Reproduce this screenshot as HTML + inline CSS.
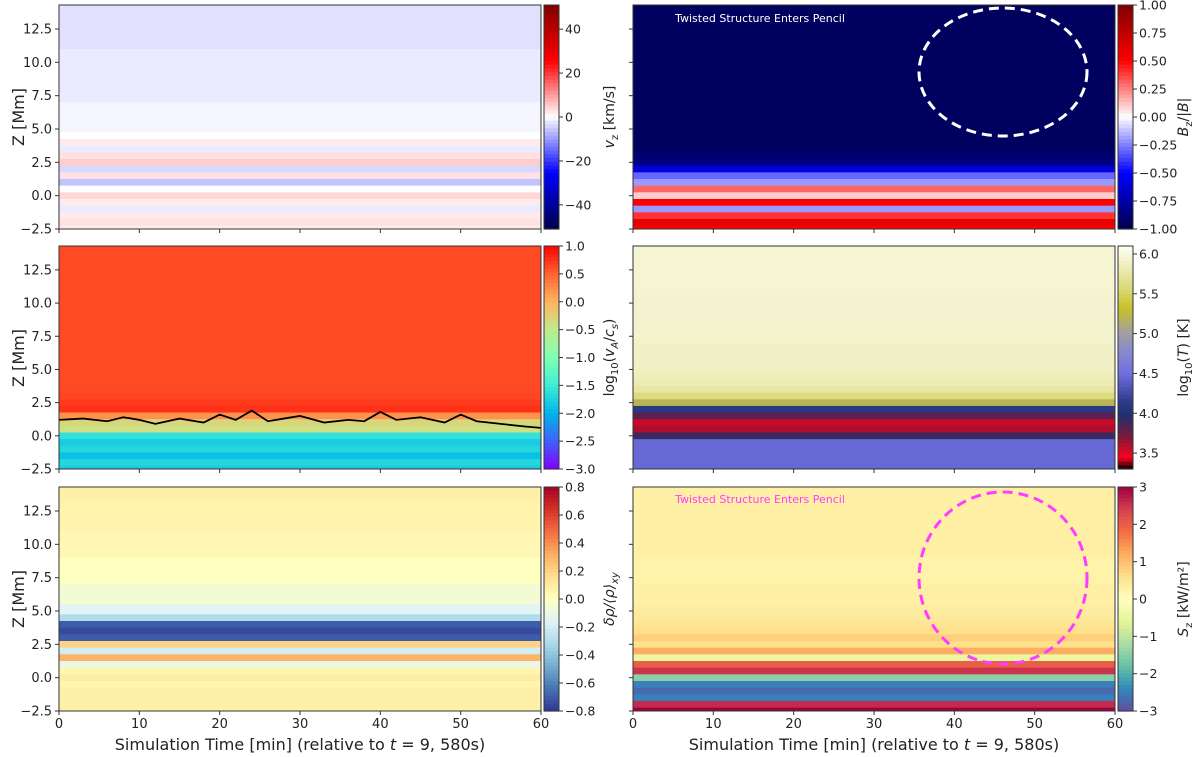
<!DOCTYPE html>
<html><head><meta charset="utf-8"><title>Simulation panels</title>
<style>
html,body{margin:0;padding:0;background:#fff;}
svg{display:block;font-family:"DejaVu Sans","Liberation Sans",sans-serif;}
</style></head>
<body>
<svg id="fig" width="1200" height="757" viewBox="0 0 1200 757" xmlns="http://www.w3.org/2000/svg"></svg>
<script>
// ---- data ----
const timeTicks = [0,10,20,30,40,50,60];
const zTicks = [-2.5,0.0,2.5,5.0,7.5,10.0,12.5];
const zLevels = [14.3,12,10,8,6,5,4.5,4,3.5,3,2.5,2,1.5,1,0.5,0,-0.5,-1,-1.5,-2,-2.5];
const vzVals   = [-3,-3,-2,-2,-1,-1,0,2,-2,3,5,-4,3,-6,0,4,2,-2,2,3,2];
const bzVals   = [-0.95,-0.95,-0.95,-0.95,-0.95,-0.95,-0.95,-0.95,-0.94,-0.9,-0.85,-0.6,-0.3,-0.2,0.3,0.1,0.5,-0.2,0.4,0.6,0.5];
const vaVals   = [0.62,0.62,0.62,0.62,0.62,0.62,0.62,0.62,0.63,0.65,0.7,0.75,0.2,-0.3,-0.4,-1.6,-1.8,-1.7,-1.9,-1.7,-1.8];
const tVals    = [5.95,5.95,5.93,5.92,5.9,5.88,5.85,5.82,5.75,5.6,5.2,4.1,3.8,3.55,3.6,3.9,4.45,4.45,4.45,4.45,4.45];
const rhoVals  = [0.08,0.06,0.04,0.0,-0.06,-0.15,-0.3,-0.7,-0.75,-0.7,0.2,-0.2,0.3,-0.1,0.05,0.1,0.05,0.08,0.08,0.08,0.08];
const szVals   = [0.3,0.3,0.3,0.25,0.3,0.35,0.4,0.5,0.6,0.8,0.6,1.2,-0.5,2.0,2.5,-1.5,-2.5,-2.7,-2.5,2.6,3];
const contourTimes = [0,3,6,8,10,12,15,18,20,22,24,26,28,30,33,36,38,40,42,45,48,50,52,55,58,60];
const contourZ     = [1.2,1.3,1.1,1.4,1.2,0.9,1.3,1.0,1.6,1.2,1.9,1.1,1.3,1.5,1.0,1.2,1.1,1.8,1.2,1.4,1.0,1.6,1.1,0.9,0.7,0.6];
const cbVz = [40,20,0,-20,-40];
const cbBz = [1.00,0.75,0.50,0.25,0.00,-0.25,-0.50,-0.75,-1.00];
const cbVa = [1.0,0.5,0.0,-0.5,-1.0,-1.5,-2.0,-2.5,-3.0];
const cbT  = [6.0,5.5,5.0,4.5,4.0,3.5];
const cbRho= [0.8,0.6,0.4,0.2,0.0,-0.2,-0.4,-0.6,-0.8];
const cbSz = [3,2,1,0,-1,-2,-3];

// ---- colormaps ----
const seismic=[[0,'#00004c'],[0.25,'#0000ff'],[0.5,'#ffffff'],[0.75,'#ff0000'],[1,'#800000']];
const rainbow=[[0,'#8000ff'],[0.125,'#4062fa'],[0.25,'#00b5eb'],[0.375,'#40ecd4'],[0.5,'#80ffb4'],[0.625,'#c0eb8d'],[0.75,'#ffb360'],[0.875,'#ff6230'],[1,'#ff0000']];
const tmap=[[0,'#000000'],[0.05,'#ff0020'],[0.14,'#801838'],[0.24,'#203070'],[0.3,'#2e3a8a'],[0.43,'#7070e0'],[0.54,'#8c8cc8'],[0.61,'#a0a0a0'],[0.72,'#c8c028'],[0.8,'#d8d870'],[1,'#fffff8']];
const rdylbu=[[0,'#313695'],[0.1,'#4575b4'],[0.2,'#74add1'],[0.3,'#abd9e9'],[0.4,'#e0f3f8'],[0.5,'#ffffbf'],[0.6,'#fee090'],[0.7,'#fdae61'],[0.8,'#f46d43'],[0.9,'#d73027'],[1,'#a50026']];
const spectral=[[0,'#5e4fa2'],[0.1,'#3288bd'],[0.2,'#66c2a5'],[0.3,'#abdda4'],[0.4,'#e6f598'],[0.5,'#ffffbf'],[0.6,'#fee08b'],[0.7,'#fdae61'],[0.8,'#f46d43'],[0.9,'#d53e4f'],[1,'#9e0142']];
function hex(h){return [1,3,5].map(i=>parseInt(h.substr(i,2),16));}
function cmap(stops,t){t=Math.max(0,Math.min(1,t));
  for(let i=1;i<stops.length;i++){if(t<=stops[i][0]){const a=stops[i-1],b=stops[i];const f=(t-a[0])/(b[0]-a[0]);const ca=hex(a[1]),cb=hex(b[1]);return 'rgb('+ca.map((v,k)=>Math.round(v+(cb[k]-v)*f)).join(',')+')';}}
  return stops[stops.length-1][1];}

const NS='http://www.w3.org/2000/svg';
const svg=document.getElementById('fig');
function el(tag,attrs,parent){const e=document.createElementNS(NS,tag);for(const k in attrs)e.setAttribute(k,attrs[k]);(parent||svg).appendChild(e);return e;}
function txt(s,attrs,parent){const e=el('text',attrs,parent);e.textContent=s;return e;}

const cols=[{x:59,w:482,cbx:544},{x:633,w:482,cbx:1118}];
const rows=[{y:5,h:224},{y:246,h:223},{y:487,h:224}];
const ZMIN=-2.5,ZMAX=14.3;

const panels=[
 {c:0,r:0,name:'vz-panel',vals:vzVals,stops:seismic,lo:-51,hi:51,ticks:cbVz,fmt:v=>v.toString().replace('-','−'),label:'v_z [km/s]'},
 {c:1,r:0,name:'bz-panel',vals:bzVals,stops:seismic,lo:-1,hi:1,ticks:cbBz,fmt:v=>v.toFixed(2).replace('-','−'),label:'B_z/|B|'},
 {c:0,r:1,name:'va-cs-panel',vals:vaVals,stops:rainbow,lo:-3,hi:1,ticks:cbVa,fmt:v=>v.toFixed(1).replace('-','−'),label:'log10(v_A/c_s)'},
 {c:1,r:1,name:'temperature-panel',vals:tVals,stops:tmap,lo:3.3,hi:6.1,ticks:cbT,fmt:v=>v.toFixed(1),label:'log10(T) [K]'},
 {c:0,r:2,name:'density-panel',vals:rhoVals,stops:rdylbu,lo:-0.8,hi:0.8,ticks:cbRho,fmt:v=>v.toFixed(1).replace('-','−'),label:'δρ/⟨ρ⟩_xy'},
 {c:1,r:2,name:'poynting-panel',vals:szVals,stops:spectral,lo:-3,hi:3,ticks:cbSz,fmt:v=>v.toString().replace('-','−'),label:'S_z [kW/m²]'}
];

panels.forEach(p=>{
  const C=cols[p.c],R=rows[p.r];
  const g=el('g',{});
  
  
  const zy=z=>R.y+R.h-(z-ZMIN)/(ZMAX-ZMIN)*R.h;
  const tx=t=>C.x+t/60*C.w;
  const norm=v=>(v-p.lo)/(p.hi-p.lo);
  for(let i=0;i<zLevels.length;i++){
    const zTop=i===0?ZMAX:(zLevels[i]+zLevels[i-1])/2;
    const zBot=i===zLevels.length-1?ZMIN:(zLevels[i]+zLevels[i+1])/2;
    const r=el('rect',{x:C.x,y:zy(zTop),width:C.w,height:zy(zBot)-zy(zTop)+0.5,fill:cmap(p.stops,norm(p.vals[i]))},g);
    
    
  }
  if(p.name==='va-cs-panel'){
    const pts=contourTimes.map((t,i)=>tx(t)+','+zy(contourZ[i])).join(' ');
    const pl=el('polyline',{points:pts,fill:'none',stroke:'#000','stroke-width':1.8},g);
    
    
  }
  const fr=el('rect',{x:C.x,y:R.y,width:C.w,height:R.h,fill:'none',stroke:'#333','stroke-width':1},g);
  
  
  zTicks.forEach(z=>{
    el('line',{x1:C.x-4,x2:C.x,y1:zy(z),y2:zy(z),stroke:'#333'},g);
    if(p.c===0){const t=txt(z.toFixed(1).replace('-','−'),{x:C.x-7,y:zy(z)+4.5,'text-anchor':'end','font-size':13,fill:'#222'},g);
      }
  });
  timeTicks.forEach(t=>{
    el('line',{x1:tx(t),x2:tx(t),y1:R.y+R.h,y2:R.y+R.h+4,stroke:'#333'},g);
    if(p.r===2){const l=txt(String(t),{x:tx(t),y:R.y+R.h+17,'text-anchor':'middle','font-size':13,fill:'#222'},g);
      }
  });
  const cb=el('g',{},g);
  
  
  const N=60;
  for(let k=0;k<N;k++){
    el('rect',{x:C.cbx,y:R.y+k*R.h/N,width:15,height:R.h/N+0.6,fill:cmap(p.stops,1-(k+0.5)/N)},cb);
  }
  el('rect',{x:C.cbx,y:R.y,width:15,height:R.h,fill:'none',stroke:'#333'},cb);
  p.ticks.forEach(v=>{
    const y=R.y+(1-norm(v))*R.h;
    el('line',{x1:C.cbx+15,x2:C.cbx+19,y1:y,y2:y,stroke:'#333'},cb);
    const l=txt(p.fmt(v),{x:C.cbx+21,y:y+4.5,'font-size':12.5,fill:'#222'},cb);
    
  });
  const lx=C.cbx+70, ly=R.y+R.h/2;
  const lab=el('text',{x:lx,y:ly,'text-anchor':'middle','font-size':14,fill:'#222',transform:`rotate(-90 ${lx} ${ly})`},cb);
  
  const parts={
    'v_z [km/s]':[['v','i'],['z','sub'],[' [km/s]','']],
    'B_z/|B|':[['B','i'],['z','sub'],['/|','' ],['B','i'],['|','']],
    'log10(v_A/c_s)':[['log',''],['10','sub'],['(',''],['v','i'],['A','subi'],['/',''],['c','i'],['s','subi'],[')','']],
    'log10(T) [K]':[['log',''],['10','sub'],['(',''],['T','i'],[') [K]','']],
    'δρ/⟨ρ⟩_xy':[['δρ/⟨ρ⟩','i'],['xy','subi']],
    'S_z [kW/m²]':[['S','i'],['z','sub'],[' [kW/m²]','']]
  }[p.label];
  let prevSub=false;
  parts.forEach(([s,st])=>{
    const ts=el('tspan',{},lab);ts.textContent=s;
    const sub=st.indexOf('sub')>=0;
    if(st.indexOf('i')>=0) ts.setAttribute('font-style','italic');
    if(sub){ts.setAttribute('font-size',10);ts.setAttribute('dy',4);}
    else if(prevSub){ts.setAttribute('dy',-4);}
    prevSub=sub;
  });
});

[5,246,487].forEach(y=>{
  const cy=y+112;
  const t=txt('Z [Mm]',{x:24,y:cy,'text-anchor':'middle','font-size':16,fill:'#222',transform:`rotate(-90 24 ${cy})`});
  
});
cols.forEach(C=>{
  const t=el('text',{x:C.x+C.w/2,y:750,'text-anchor':'middle','font-size':16,fill:'#222'});
  
  t.innerHTML='Simulation Time [min] (relative to <tspan font-style="italic">t</tspan> = 9, 580s)';
});

const a1=txt('Twisted Structure Enters Pencil',{x:760,y:22,'text-anchor':'middle','font-size':11,fill:'#fff'});

const e1=el('ellipse',{cx:1003,cy:72,rx:84,ry:64,fill:'none',stroke:'#fff','stroke-width':3,'stroke-dasharray':'10,6'});

const a2=txt('Twisted Structure Enters Pencil',{x:760,y:503,'text-anchor':'middle','font-size':11,fill:'#ff3cff'});

const e2=el('ellipse',{cx:1003,cy:578,rx:84,ry:86,fill:'none',stroke:'#ff3cff','stroke-width':3,'stroke-dasharray':'10,6'});

</script>
</body></html>
